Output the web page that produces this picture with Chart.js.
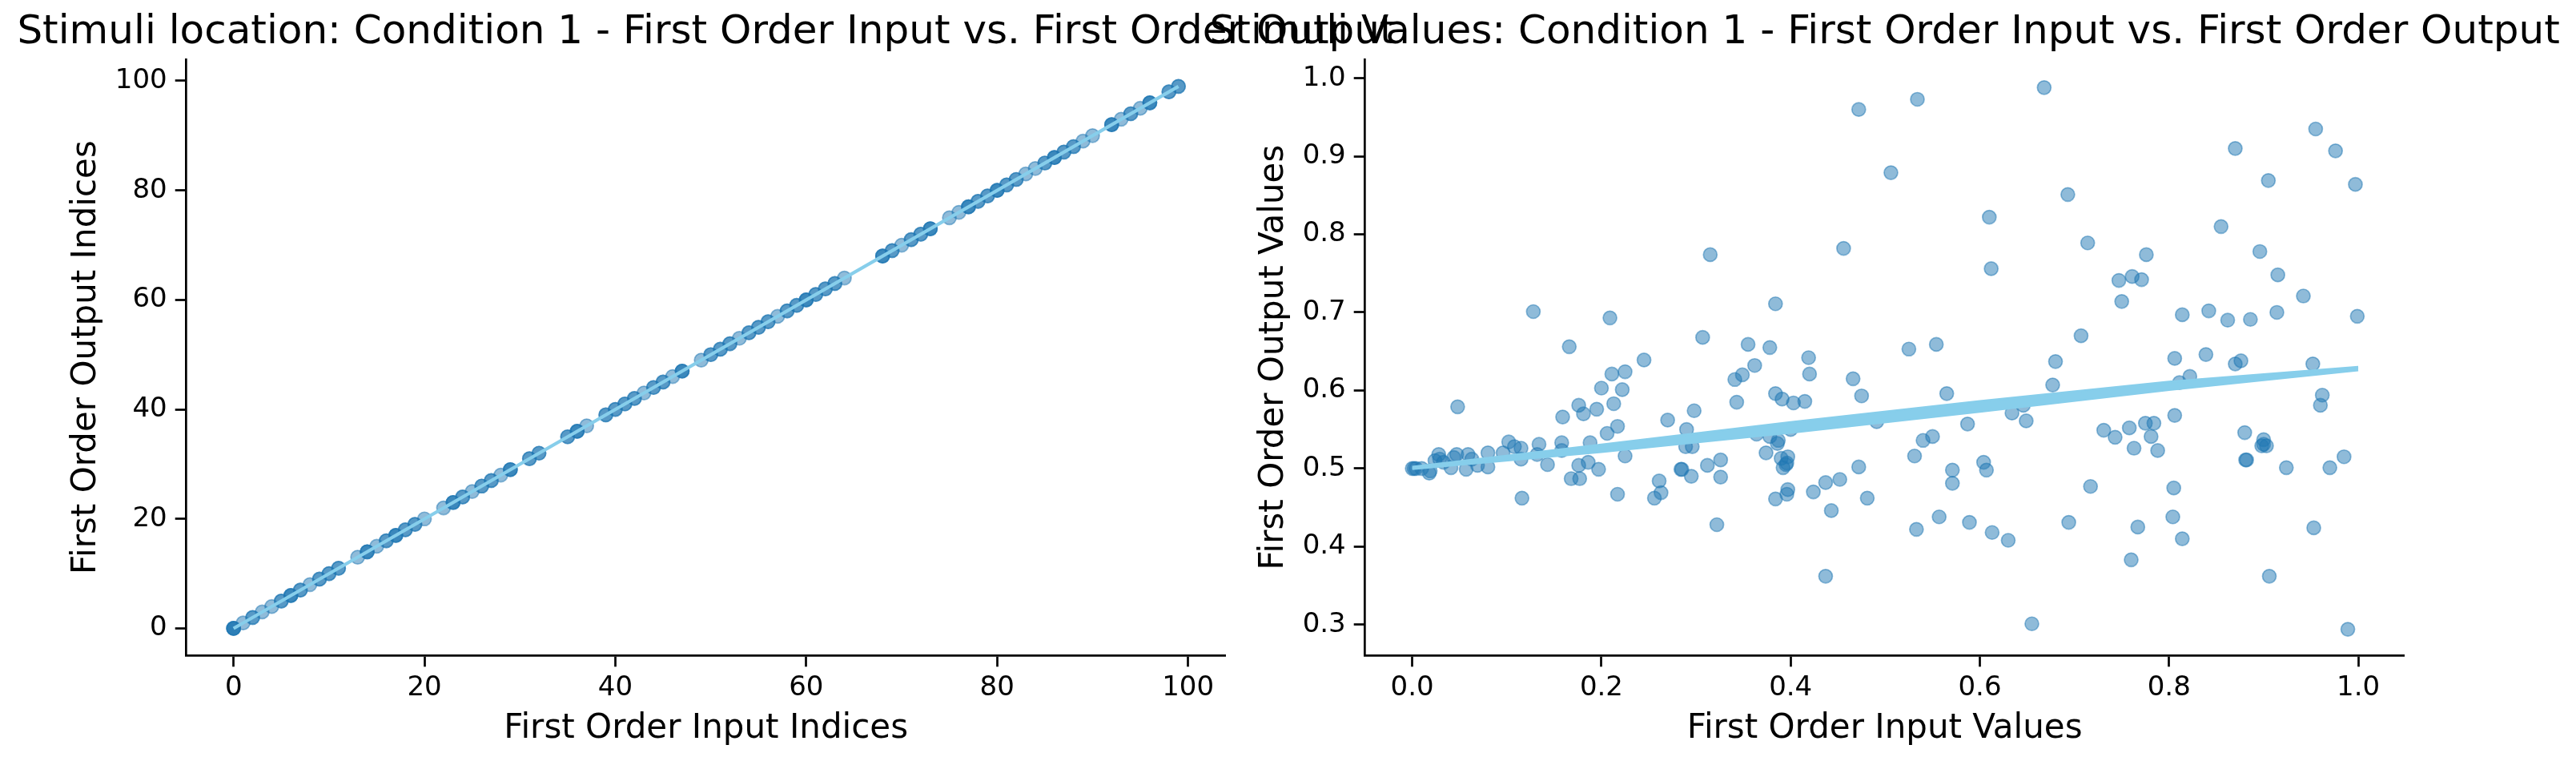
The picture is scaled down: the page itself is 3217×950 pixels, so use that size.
<!DOCTYPE html>
<html>
<head>
<meta charset="utf-8">
<script src="https://cdn.jsdelivr.net/npm/chart.js@4.4.0/dist/chart.umd.min.js"></script>
<style>
  html, body { margin: 0; padding: 0; background: #fff; }
  .panel { position: absolute; left: 0; top: 0; width: 3217px; height: 950px; }
</style>
</head>
<body>
<div class="panel"><canvas id="locationChart" width="3217" height="950"></canvas></div>
<div class="panel"><canvas id="valueChart" width="3217" height="950"></canvas></div>
<script>
// Stimuli location: first order input vs output indices (repeated values = overlapping trials)
const indexInput = [
    0, 0, 0, 0, 1, 2, 2, 3, 4, 5, 5, 6, 6, 6, 7, 7, 8, 9, 9, 10, 10, 11, 11,
    13, 14, 14, 14, 15, 16, 16, 17, 17, 17, 18, 18, 19, 19, 20,
    22, 23, 23, 23, 24, 24, 25, 26, 26, 27, 27, 28, 29, 29, 29,
    31, 31, 32, 32, 35, 35, 36, 36, 36, 37, 39, 39, 40, 40, 41, 41, 42, 42,
    43, 44, 44, 45, 45, 46, 47, 47, 47, 49, 50, 50, 51, 51, 52, 52, 53,
    54, 54, 55, 55, 56, 56, 57, 58, 58, 59, 59, 60, 60, 60, 61, 61, 62, 62, 63, 63, 64,
    68, 68, 68, 69, 69, 70, 71, 71, 72, 72, 73, 73, 73,
    75, 76, 77, 77, 77, 78, 78, 79, 79, 80, 80, 80, 81, 81, 82, 82, 83, 84,
    85, 85, 86, 86, 86, 87, 87, 88, 88, 89, 90,
    92, 92, 92, 93, 94, 94, 95, 96, 96, 96, 98, 98, 99, 99
];
const indexOutput = indexInput.slice();
const indexFitX = [0, 99];
const indexFitY = [0, 99];
const indexTicks = [0, 20, 40, 60, 80, 100];

// Stimuli values: first order input vs output values
const valueInput = [
    0.472, 0.534, 0.506, 0.315, 0.456, 0.128, 0.209, 0.384, 0.307, 0.355,
    0.378, 0.525, 0.554, 0.166, 0.245, 0.419, 0.362, 0.225, 0.211, 0.420,
    0.341, 0.349, 0.466, 0.200, 0.222, 0.475, 0.384, 0.391, 0.403, 0.415,
    0.343, 0.565, 0.048, 0.176, 0.213, 0.195, 0.181, 0.159, 0.298, 0.270,
    0.217, 0.206, 0.491, 0.290, 0.400, 0.364, 0.378, 0.387, 0.386, 0.550,
    0.540, 0.531, 0.188, 0.134, 0.158, 0.102, 0.115, 0.108, 0.158, 0.132,
    0.096, 0.080, 0.059, 0.047, 0.044, 0.028, 0.029, 0.024, 0.063, 0.033,
    0.115, 0.289, 0.296, 0.225, 0.374, 0.390, 0.397, 0.395, 0.392, 0.396,
    0.326, 0.312, 0.284, 0.285, 0.143, 0.176, 0.186, 0.197, 0.080, 0.069,
    0.057, 0.041, 0.019, 0.018, 0.000, 0.002, 0.004, 0.010, 0.168, 0.177,
    0.295, 0.326, 0.261, 0.437, 0.452, 0.472, 0.571, 0.571, 0.397, 0.396,
    0.424, 0.217, 0.263, 0.256, 0.116, 0.384, 0.481, 0.443, 0.557, 0.533,
    0.322, 0.437,
    0.668, 0.955, 0.870, 0.976, 0.905, 0.997, 0.693, 0.610, 0.855, 0.714,
    0.896, 0.776, 0.612, 0.915, 0.747, 0.761, 0.771, 0.750, 0.942, 0.814,
    0.842, 0.862, 0.886, 0.914, 0.999, 0.707, 0.680, 0.806, 0.839, 0.870,
    0.876, 0.952, 0.677, 0.811, 0.822, 0.962, 0.960, 0.646, 0.634, 0.649,
    0.587, 0.806, 0.731, 0.743, 0.758, 0.775, 0.784, 0.781, 0.763, 0.788,
    0.880, 0.900, 0.898, 0.900, 0.903, 0.881, 0.882, 0.924, 0.970, 0.985,
    0.604, 0.607, 0.717, 0.805, 0.589, 0.613, 0.630, 0.694, 0.767, 0.804,
    0.814, 0.953, 0.760, 0.906, 0.655, 0.989
];
const valueOutput = [
    0.960, 0.973, 0.879, 0.774, 0.782, 0.701, 0.693, 0.711, 0.668, 0.659,
    0.655, 0.653, 0.659, 0.656, 0.639, 0.642, 0.632, 0.624, 0.621, 0.621,
    0.614, 0.620, 0.615, 0.603, 0.601, 0.593, 0.596, 0.589, 0.584, 0.586,
    0.585, 0.596, 0.579, 0.581, 0.583, 0.576, 0.570, 0.566, 0.574, 0.562,
    0.554, 0.545, 0.560, 0.550, 0.550, 0.544, 0.541, 0.536, 0.532, 0.541,
    0.536, 0.516, 0.533, 0.531, 0.533, 0.534, 0.526, 0.528, 0.523, 0.518,
    0.520, 0.520, 0.518, 0.518, 0.514, 0.518, 0.512, 0.510, 0.512, 0.508,
    0.512, 0.528, 0.528, 0.516, 0.520, 0.513, 0.515, 0.505, 0.501, 0.507,
    0.511, 0.504, 0.499, 0.499, 0.505, 0.504, 0.508, 0.499, 0.502, 0.504,
    0.499, 0.501, 0.497, 0.494, 0.500, 0.500, 0.500, 0.500, 0.487, 0.487,
    0.490, 0.489, 0.484, 0.482, 0.486, 0.502, 0.498, 0.481, 0.473, 0.467,
    0.470, 0.467, 0.469, 0.462, 0.462, 0.461, 0.462, 0.446, 0.438, 0.422,
    0.428, 0.362,
    0.988, 0.935, 0.910, 0.907, 0.869, 0.864, 0.851, 0.822, 0.810, 0.789,
    0.778, 0.774, 0.756, 0.748, 0.741, 0.746, 0.742, 0.714, 0.721, 0.697,
    0.702, 0.690, 0.691, 0.700, 0.695, 0.670, 0.637, 0.641, 0.646, 0.634,
    0.638, 0.634, 0.607, 0.610, 0.618, 0.594, 0.581, 0.581, 0.571, 0.561,
    0.557, 0.568, 0.549, 0.540, 0.552, 0.558, 0.558, 0.541, 0.526, 0.523,
    0.546, 0.537, 0.529, 0.531, 0.529, 0.511, 0.511, 0.501, 0.501, 0.515,
    0.508, 0.498, 0.477, 0.475, 0.431, 0.418, 0.408, 0.431, 0.425, 0.438,
    0.410, 0.424, 0.383, 0.362, 0.301, 0.294
];
// fitted line drawn as a band (upper / lower edge)
const valueFitX = [0.0, 0.2, 0.4, 0.6, 0.8, 1.0];
const valueFitUpper = [0.5020, 0.5305, 0.5590, 0.5860, 0.6110, 0.6300];
const valueFitLower = [0.4995, 0.5215, 0.5460, 0.5730, 0.6010, 0.6260];
const valueXTicks = [0.0, 0.2, 0.4, 0.6, 0.8, 1.0];
const valueYTicks = [0.3, 0.4, 0.5, 0.6, 0.7, 0.8, 0.9, 1.0];

const pointColor = 'rgba(31, 119, 180, 0.5)';
const fitColor = '#87ceeb';

Chart.defaults.font.family = "'DejaVu Sans', sans-serif";
Chart.defaults.color = '#000';

function toPoints(xs, ys) {
    return xs.map((x, i) => ({ x: x, y: ys[i] }));
}

function xAxis(min, max, ticks, decimals, title) {
    return {
        type: 'linear',
        position: 'bottom',
        min: min,
        max: max,
        afterBuildTicks: s => { s.ticks = ticks.map(v => ({ value: v })); },
        afterFit: s => { s.height = 131.7; },
        grid: { drawOnChartArea: false, tickLength: 14, tickWidth: 2.7, tickColor: '#000' },
        border: { color: '#000', width: 2.7 },
        ticks: { autoSkip: false, maxRotation: 0, padding: 6, font: { size: 34 },
                 callback: v => v.toFixed(decimals) },
        title: { display: true, text: title, font: { size: 42 }, padding: { top: 0, bottom: 15 } }
    };
}

function yAxis(min, max, ticks, decimals, title, width, titleOffset) {
    return {
        type: 'linear',
        position: 'left',
        min: min,
        max: max,
        afterBuildTicks: s => { s.ticks = ticks.map(v => ({ value: v })); },
        afterFit: s => { s.width = width; },
        grid: { drawOnChartArea: false, tickLength: 14, tickWidth: 2.7, tickColor: '#000' },
        border: { color: '#000', width: 2.7 },
        ticks: { autoSkip: false, padding: 10, font: { size: 34 },
                 callback: v => v.toFixed(decimals) },
        title: { display: true, text: title, font: { size: 42 }, padding: { top: titleOffset, bottom: 0 } }
    };
}

// empty right-hand axis, only used to hold the plot area away from the title box edge
function spacerAxis(width) {
    return {
        type: 'linear',
        position: 'right',
        afterFit: s => { s.width = width; },
        grid: { display: false },
        border: { display: false },
        ticks: { display: false }
    };
}

function titleOptions(text) {
    return {
        display: true,
        text: text,
        color: '#000',
        font: { size: 50, weight: 'normal' },
        padding: { top: 11, bottom: 3 }
    };
}

const locationChart = new Chart(document.getElementById('locationChart'), {
    type: 'scatter',
    data: {
        datasets: [
            {
                data: toPoints(indexFitX, indexFitY),
                showLine: true,
                borderColor: fitColor,
                borderWidth: 4.2,
                pointRadius: 0,
                order: 1
            },
            {
                data: toPoints(indexInput, indexOutput),
                backgroundColor: pointColor,
                borderColor: pointColor,
                borderWidth: 1.7,
                pointRadius: 8.5,
                order: 2
            }
        ]
    },
    options: {
        responsive: false,
        animation: false,
        events: [],
        devicePixelRatio: 1,
        layout: { padding: { left: 0, right: 1453, top: 0, bottom: 0 } },
        plugins: {
            legend: { display: false },
            tooltip: { enabled: false },
            title: titleOptions('Stimuli location: Condition 1 - First Order Input vs. First Order Output')
        },
        scales: {
            x: xAxis(-4.95, 103.95, indexTicks, 0, 'First Order Input Indices'),
            y: yAxis(-4.95, 103.95, indexTicks, 0, 'First Order Output Indices', 232.7, 83),
            yRight: spacerAxis(233.3)
        }
    }
});

const valueChart = new Chart(document.getElementById('valueChart'), {
    type: 'scatter',
    data: {
        datasets: [
            {
                data: toPoints(valueFitX, valueFitUpper),
                showLine: true,
                borderColor: fitColor,
                backgroundColor: fitColor,
                borderWidth: 3,
                pointRadius: 0,
                fill: '+1',
                order: 1
            },
            {
                data: toPoints(valueFitX, valueFitLower),
                showLine: true,
                borderColor: fitColor,
                borderWidth: 3,
                pointRadius: 0,
                order: 1
            },
            {
                data: toPoints(valueInput, valueOutput),
                backgroundColor: pointColor,
                borderColor: pointColor,
                borderWidth: 1.7,
                pointRadius: 8.5,
                order: 2
            }
        ]
    },
    options: {
        responsive: false,
        animation: false,
        events: [],
        devicePixelRatio: 1,
        layout: { padding: { left: 1490.4, right: 0, top: 0, bottom: 0 } },
        plugins: {
            legend: { display: false },
            tooltip: { enabled: false },
            title: titleOptions('Stimuli Values: Condition 1 - First Order Input vs. First Order Output')
        },
        scales: {
            x: xAxis(-0.0499, 1.0488, valueXTicks, 1, 'First Order Input Values'),
            y: yAxis(0.2604, 1.0243, valueYTicks, 1, 'First Order Output Values', 214.3, 75),
            yRight: spacerAxis(214.3)
        }
    }
});
</script>
</body>
</html>
